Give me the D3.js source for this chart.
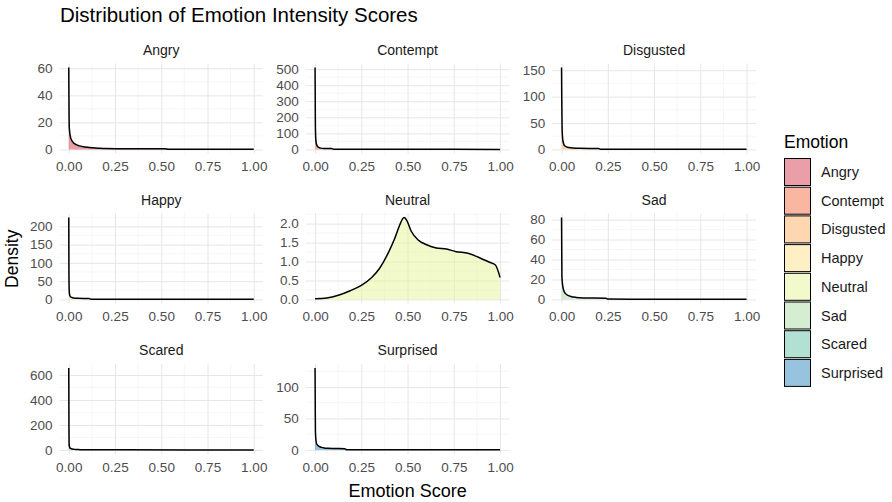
<!DOCTYPE html>
<html>
<head>
<meta charset="utf-8">
<script src="https://cdn.jsdelivr.net/npm/d3@7"></script>
<style>
  body { margin: 0; background: #fff; }
  text { font-family: "Liberation Sans", Arial, sans-serif; }
</style>
</head>
<body>
<div id="chart"></div>
<script>
let width = 892,
    height = 502;

// facet order
const emotions = ["Angry", "Contempt", "Disgusted", "Happy", "Neutral", "Sad", "Scared", "Surprised"];

// density curves, [score, density]
const angryDensity = [[0, 60.5], [0.001, 38], [0.003, 16], [0.008, 10], [0.015, 7], [0.025, 5], [0.04, 3.5],
  [0.06, 2.6], [0.08, 2], [0.1, 1.6], [0.13, 1.2], [0.16, 0.9], [0.2, 0.6], [0.3, 0.5], [0.4, 0.45],
  [0.52, 0.4], [0.54, 0.15], [0.7, 0.1], [0.85, 0.08], [1, 0.05]];
const contemptDensity = [[0, 510], [0.001, 300], [0.002, 130], [0.005, 50], [0.01, 25], [0.02, 12],
  [0.03, 8], [0.05, 6], [0.09, 5], [0.1, 1], [0.2, 0.5], [0.5, 0.3], [1, 0.2]];
const disgustedDensity = [[0, 155], [0.001, 100], [0.003, 40], [0.006, 20], [0.012, 10], [0.02, 6],
  [0.04, 3.5], [0.06, 2.5], [0.1, 2], [0.2, 1.8], [0.21, 0.5], [0.4, 0.3], [1, 0.2]];
const happyDensity = [[0, 224], [0.001, 65], [0.003, 20], [0.006, 10], [0.012, 6], [0.025, 4],
  [0.05, 3], [0.11, 2.6], [0.12, 0.5], [0.3, 0.3], [1, 0.2]];
const neutralDensity = [[0, 0.02], [0.063, 0.04], [0.126, 0.11], [0.19, 0.23], [0.25, 0.37], [0.305, 0.57],
  [0.35, 0.83], [0.395, 1.22], [0.43, 1.6], [0.455, 1.93], [0.472, 2.12], [0.482, 2.16], [0.494, 2.1], [0.52, 1.8],
  [0.557, 1.57], [0.6, 1.45], [0.655, 1.36], [0.71, 1.33], [0.763, 1.26], [0.826, 1.22], [0.889, 1.1],
  [0.943, 0.98], [0.975, 0.91], [1, 0.58]];
const sadDensity = [[0, 82], [0.001, 50], [0.002, 23], [0.006, 14], [0.012, 9], [0.02, 6], [0.035, 4],
  [0.05, 3], [0.08, 2], [0.12, 1.5], [0.24, 1.1], [0.25, 0.3], [0.5, 0.25], [1, 0.2]];
const scaredDensity = [[0, 655], [0.0005, 470], [0.001, 200], [0.002, 40], [0.005, 20], [0.01, 12],
  [0.02, 7], [0.035, 4], [0.05, 3], [0.06, 2], [0.065, 0.5], [0.3, 0.3], [1, 0.2]];
const surprisedDensity = [[0, 130], [0.001, 70], [0.002, 31], [0.005, 15], [0.01, 9], [0.02, 6],
  [0.035, 4], [0.05, 3], [0.07, 2.5], [0.1, 2.2], [0.16, 2], [0.17, 0.4], [0.5, 0.3], [1, 0.2]];

// y tick values per facet (free scales)
const angryTicks = [0, 20, 40, 60];
const contemptTicks = [0, 100, 200, 300, 400, 500];
const disgustedTicks = [0, 50, 100, 150];
const happyTicks = [0, 50, 100, 150, 200];
const neutralTicks = [0, 0.5, 1, 1.5, 2];
const sadTicks = [0, 20, 40, 60, 80];
const scaredTicks = [0, 200, 400, 600];
const surprisedTicks = [0, 50, 100];

const xTicks = [0, 0.25, 0.5, 0.75, 1];

const densities = [angryDensity, contemptDensity, disgustedDensity, happyDensity,
  neutralDensity, sadDensity, scaredDensity, surprisedDensity];
const yTicks = [angryTicks, contemptTicks, disgustedTicks, happyTicks,
  neutralTicks, sadTicks, scaredTicks, surprisedTicks];

// Spectral palette, drawn at alpha 0.5
const color = d3.scaleOrdinal()
  .domain(emotions)
  .range(["#D53E4F", "#F46D43", "#FDAE61", "#FEE08B", "#E6F598", "#ABDDA4", "#66C2A5", "#3288BD"]);

const panelW = 203.5, panelH = 90;
const colX = [59.5, 305.8, 552.3];
const rowY = [63.5, 213.5, 364];

const svg = d3.select("#chart")
  .append("svg")
  .attr("width", width)
  .attr("height", height);

svg.append("text")
  .attr("x", 60)
  .attr("y", 22)
  .attr("font-size", "20.5px")
  .attr("fill", "#000")
  .text("Distribution of Emotion Intensity Scores");

emotions.forEach((emo, i) => {
  let left = colX[i % 3],
      top = rowY[Math.floor(i / 3)],
      data = densities[i],
      ticks = yTicks[i];

  let x = d3.scaleLinear()
    .domain([-0.05, 1.05])
    .range([left, left + panelW]);

  let m = d3.max(data, d => d[1]);
  let y = d3.scaleLinear()
    .domain([-0.05 * m, 1.05 * m])
    .range([top + panelH, top]);

  let g = svg.append("g");

  // minor grid: midpoints between breaks
  let xMinor = d3.pairs(xTicks).map(p => (p[0] + p[1]) / 2);
  let step = ticks[1] - ticks[0];
  let yMinor = [ticks[0] - step / 2].concat(d3.pairs(ticks).map(p => (p[0] + p[1]) / 2), [ticks[ticks.length - 1] + step / 2])
    .filter(v => v >= y.domain()[0] && v <= y.domain()[1]);

  g.selectAll(".xminor").data(xMinor).join("line")
    .attr("x1", d => x(d)).attr("x2", d => x(d))
    .attr("y1", top).attr("y2", top + panelH)
    .attr("stroke", "#f0f0f0").attr("stroke-width", 0.6);
  g.selectAll(".yminor").data(yMinor).join("line")
    .attr("x1", left).attr("x2", left + panelW)
    .attr("y1", d => y(d)).attr("y2", d => y(d))
    .attr("stroke", "#f0f0f0").attr("stroke-width", 0.6);

  // major grid + labels via axes
  g.append("g")
    .attr("transform", `translate(0,${top + panelH})`)
    .call(d3.axisBottom(x)
      .tickValues(xTicks)
      .tickSize(-panelH)
      .tickPadding(13)
      .tickFormat(d3.format(".2f")))
    .call(a => a.select(".domain").remove())
    .call(a => a.selectAll("line").attr("stroke", "#e6e6e6").attr("stroke-width", 1))
    .call(a => a.selectAll("text").attr("fill", "#4d4d4d").attr("font-size", "13.5px")
      .attr("font-family", "Liberation Sans, Arial, sans-serif").attr("dy", "0.35em"));

  g.append("g")
    .attr("transform", `translate(${left},0)`)
    .call(d3.axisLeft(y)
      .tickValues(ticks)
      .tickSize(-panelW)
      .tickPadding(7)
      .tickFormat(emo === "Neutral" ? d3.format(".1f") : d3.format("d")))
    .call(a => a.select(".domain").remove())
    .call(a => a.selectAll("line").attr("stroke", "#e6e6e6").attr("stroke-width", 1))
    .call(a => a.selectAll("text").attr("fill", "#4d4d4d").attr("font-size", "13.5px")
      .attr("font-family", "Liberation Sans, Arial, sans-serif"));

  let area = d3.area()
    .curve(d3.curveMonotoneX)
    .x(d => x(d[0]))
    .y0(y(0))
    .y1(d => y(d[1]));

  let line = d3.line()
    .curve(d3.curveMonotoneX)
    .x(d => x(d[0]))
    .y(d => y(d[1]));

  g.append("path")
    .datum(data)
    .attr("fill", color(emo))
    .attr("fill-opacity", 0.5)
    .attr("d", area);

  g.append("path")
    .datum(data)
    .attr("fill", "none")
    .attr("stroke", "#000")
    .attr("stroke-width", 1.5)
    .attr("d", line);

  // strip label
  g.append("text")
    .attr("x", left + panelW / 2)
    .attr("y", top - 9)
    .attr("text-anchor", "middle")
    .attr("font-size", "14px")
    .attr("fill", "#1a1a1a")
    .text(emo);
});

// axis titles
svg.append("text")
  .attr("x", (colX[0] + colX[2] + panelW) / 2)
  .attr("y", 497)
  .attr("text-anchor", "middle")
  .attr("font-size", "18px")
  .text("Emotion Score");

svg.append("text")
  .attr("transform", `translate(18,${(rowY[0] + rowY[2] + panelH) / 2}) rotate(-90)`)
  .attr("text-anchor", "middle")
  .attr("font-size", "17.5px")
  .text("Density");

// legend
let legend = svg.append("g").attr("transform", "translate(784,0)");

legend.append("text")
  .attr("x", 0)
  .attr("y", 148)
  .attr("font-size", "17.5px")
  .text("Emotion");

let keys = legend.selectAll(".key").data(emotions).join("g")
  .attr("transform", (d, i) => `translate(0,${158 + i * 28.7})`);

keys.append("rect")
  .attr("x", 0.5).attr("y", 0.5)
  .attr("width", 26).attr("height", 27)
  .attr("fill", d => color(d))
  .attr("fill-opacity", 0.5)
  .attr("stroke", "#000")
  .attr("stroke-width", 1);

keys.append("text")
  .attr("x", 37)
  .attr("y", 14)
  .attr("dy", "0.35em")
  .attr("font-size", "14.5px")
  .attr("fill", "#1a1a1a")
  .text(d => d);
</script>
</body>
</html>
